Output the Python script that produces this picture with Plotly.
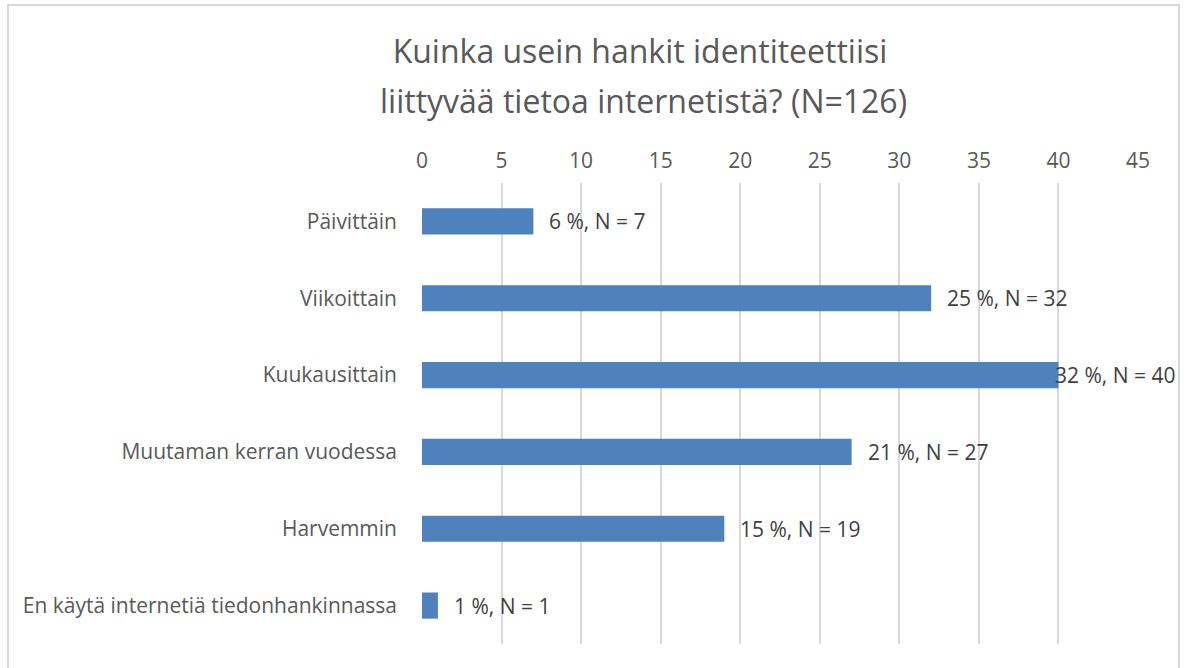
import plotly.graph_objects as go

categories = ["Päivittäin", "Viikoittain", "Kuukausittain", "Muutaman kerran vuodessa",
              "Harvemmin", "En käytä internetiä tiedonhankinnassa"]
counts = [7, 32, 40, 27, 19, 1]
percents = [6, 25, 32, 21, 15, 1]
labels = [f"{p} %, N = {n}" for p, n in zip(percents, counts)]
tick_vals = list(range(0, 50, 5))
title_lines = ["Kuinka usein hankit identiteettiisi", "liittyvää tietoa internetistä? (N=126)"]

FONT = "'Open Sans', 'Noto Sans', sans-serif"
TXT = "#595959"

fig = go.Figure(go.Bar(
    y=categories, x=counts, orientation="h",
    marker=dict(color="#4F81BD", line=dict(width=0)),
    width=0.34,
))

for c, v, lab in zip(categories, counts, labels):
    shift = -5 if v >= 40 else 14
    fig.add_annotation(x=v, y=c, text=lab, showarrow=False, xanchor="left",
                       xshift=shift, font=dict(family=FONT, size=21, color="#404040"))

W, H = 1186, 668
L, R, T, B = 422, 48, 183, 24
pw, ph = W - L - R, H - T - B

fig.add_shape(type="rect", xref="paper", yref="paper",
              x0=(8 - L) / pw, x1=(1179 - L) / pw,
              y0=(H - B - 690) / ph, y1=(H - B - 5) / ph,
              line=dict(color="#D9D9D9", width=2), fillcolor="rgba(0,0,0,0)", layer="below")

fig.add_annotation(xref="paper", yref="paper", x=(643.5 - L) / pw, y=(H - B - 100) / ph,
                   xanchor="center", yanchor="middle", showarrow=False, text=title_lines[1],
                   font=dict(family=FONT, size=32, color=TXT))

fig.update_layout(
    width=W, height=H,
    margin=dict(l=L, r=R, t=T, b=B),
    paper_bgcolor="white", plot_bgcolor="white",
    title=dict(text=title_lines[0],
               x=640 / W, xanchor="center", y=1 - 52 / H, yanchor="middle",
               font=dict(family=FONT, size=32, color=TXT)),
    showlegend=False,
)
fig.update_xaxes(range=[0, 45], side="top", tickvals=tick_vals, showgrid=True,
                 gridcolor="#D9D9D9", gridwidth=2, zeroline=False, showline=False,
                 ticks="", ticklabelstandoff=10,
                 tickfont=dict(family=FONT, size=21, color=TXT))
fig.update_yaxes(categoryorder="array", categoryarray=categories[::-1],
                 showgrid=False, showline=False, ticks="", ticklabelstandoff=24,
                 tickfont=dict(family=FONT, size=21, color=TXT))

fig.write_html("out.html", config={"displayModeBar": False},
               post_script="document.body.style.margin='0';")
